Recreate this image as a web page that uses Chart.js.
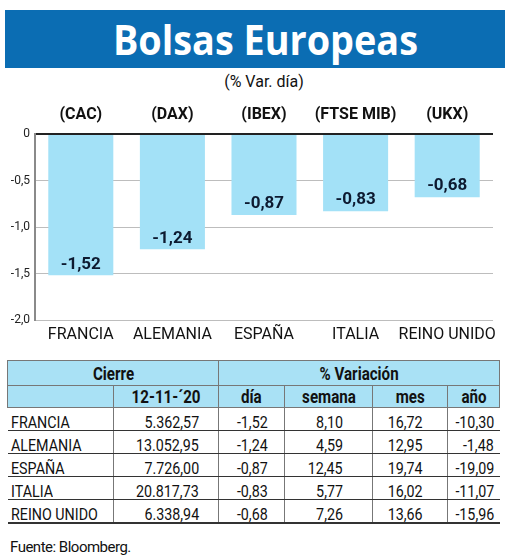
<!DOCTYPE html>
<html>
<head>
<meta charset="utf-8">
<script src="https://cdn.jsdelivr.net/npm/chart.js@4.4.1/dist/chart.umd.min.js"></script>
<style>
body { margin:0; background:#fff; width:520px; height:558px; position:relative; overflow:hidden; font-family:Roboto, sans-serif; color:#111; }
#banner { position:absolute; left:5px; top:10px; width:500px; height:58px; background:#0b6db3; text-align:center; }
#banner span { display:inline-block; color:#fff; font-family:"Open Sans", sans-serif; font-weight:bold; font-size:42px; line-height:58px; transform:translateX(10px) scaleX(0.9); }
#sub { position:absolute; left:4px; width:520px; top:72px; text-align:center; font-size:16px; }
#chartBox { position:absolute; left:0; top:95px; width:520px; height:255px; }
#tabla { position:absolute; left:7px; top:360px; border-collapse:collapse; table-layout:fixed; width:492px; font-size:17px; }
#tabla td { padding:0; white-space:nowrap; overflow:visible; }
#tabla td span { display:inline-block; transform:scaleX(0.84); }
#tabla tr.head td { background:#a9e1f5; border:1.5px solid #777; font-weight:bold; font-size:18px; text-align:center; }
#tabla tr.head td span { transform-origin:center; }
#tabla tr.h1 td { height:24px; }
#tabla tr.h2 td { height:21px; }
#tabla tr.fila td { height:22px; vertical-align:bottom; line-height:15px; border-bottom:1.5px solid #333; border-left:1px solid #777; text-align:right; }
#tabla tr.fila td span { transform-origin:right; }
#tabla tr.fila td:first-child { border-left:none; padding-left:3px; text-align:left; }
#tabla tr.fila td:first-child span { transform-origin:left; }
#tabla tr.fila:last-child td { border-bottom:2px solid #333; }
#fuente { position:absolute; left:10px; top:538px; font-size:15px; letter-spacing:-0.5px; }
</style>
</head>
<body>
<div id="banner"><span>Bolsas Europeas</span></div>
<div id="sub">(% Var. día)</div>
<div id="chartBox"><canvas id="grafico" width="520" height="255"></canvas></div>
<table id="tabla"></table>
<div id="fuente">Fuente: Bloomberg.</div>

<script>
// datos
var paises = ["FRANCIA", "ALEMANIA", "ESPAÑA", "ITALIA", "REINO UNIDO"];
var indices = ["(CAC)", "(DAX)", "(IBEX)", "(FTSE MIB)", "(UKX)"];
var varDia = [-1.52, -1.24, -0.87, -0.83, -0.68];
var cierre = [5362.57, 13052.95, 7726.00, 20817.73, 6338.94];
var varSemana = [8.10, 4.59, 12.45, 5.77, 7.26];
var varMes = [16.72, 12.95, 19.74, 16.02, 13.66];
var varAno = [-10.30, -1.48, -19.09, -11.07, -15.96];
var fechaCierre = "12-11-´20";
var yMin = -2, yMax = 0, yPaso = 0.5;

// formato español: 13.052,95
function fmt(v, dec) {
	var s = Math.abs(v).toFixed(dec).split(".");
	var ent = s[0].replace(/\B(?=(\d{3})+(?!\d))/g, ".");
	return (v < 0 ? "-" : "") + ent + (dec > 0 ? "," + s[1] : "");
}

// etiquetas de valor dentro de la barra
var valorPlugin = {
	id: "valores",
	afterDatasetsDraw: function(chart) {
		var ctx = chart.ctx;
		var meta = chart.getDatasetMeta(0);
		ctx.save();
		ctx.font = "bold 17px Roboto, sans-serif";
		ctx.fillStyle = "#0d1a30";
		ctx.textAlign = "center";
		ctx.textBaseline = "middle";
		meta.data.forEach(function(bar, i) {
			ctx.fillText(fmt(varDia[i], 2), bar.x, bar.y - 11);
		});
		ctx.restore();
	}
};

var ctx = document.getElementById("grafico");
var miGrafico = new Chart(ctx, {
	type: "bar",
	data: {
		labels: paises,
		datasets: [{
			data: varDia,
			backgroundColor: "#a3e1f7",
			borderWidth: 0,
			barPercentage: 0.71,
			categoryPercentage: 1
		}]
	},
	options: {
		responsive: false,
		animation: false,
		devicePixelRatio: 1,
		layout: { padding: { left: 0, right: 27, top: 0, bottom: 0 } },
		plugins: { legend: { display: false }, tooltip: { enabled: false } },
		scales: {
			x: {
				position: "bottom",
				grid: { display: false, drawTicks: false },
				border: { display: false },
				ticks: { font: { family: "Roboto, sans-serif", size: 16 }, color: "#111", padding: 5, maxRotation: 0, autoSkip: false },
				afterFit: function(s) { s.height = 30; }
			},
			x2: {
				type: "category",
				position: "top",
				labels: indices,
				grid: { display: false, drawTicks: false },
				border: { display: false },
				ticks: { font: { family: "Roboto, sans-serif", size: 16, weight: "bold" }, color: "#111", padding: 9, maxRotation: 0, autoSkip: false },
				afterFit: function(s) { s.height = 39; }
			},
			y: {
				min: yMin,
				max: yMax,
				ticks: {
					stepSize: yPaso,
					font: { family: "Roboto, sans-serif", size: 12 },
					color: "#222",
					padding: 5,
					callback: function(v) { return v === 0 ? "0" : fmt(v, 1); }
				},
				grid: {
					drawTicks: false,
					color: function(c) { return c.tick && c.tick.value === 0 ? "#222" : "#bdbdbd"; },
					lineWidth: function(c) { return c.tick && c.tick.value === 0 ? 2 : 1; }
				},
				border: { color: "#8a8a8a", width: 2 },
				afterFit: function(s) { s.width = 35; }
			}
		}
	},
	plugins: [valorPlugin]
});

// tabla
function celda(txt, estilo) {
	return '<td' + (estilo ? ' style="' + estilo + '"' : '') + '><span>' + txt + '</span></td>';
}

function crearTabla() {
	var t = document.getElementById("tabla");
	var anchos = [106, 105, 66, 88, 75, 52];
	var html = "<colgroup>";
	anchos.forEach(function(w) { html += '<col style="width:' + w + 'px">'; });
	html += "</colgroup>";
	html += '<tr class="head h1"><td colspan="2"><span>Cierre</span></td><td colspan="4"><span>% Variación</span></td></tr>';
	html += '<tr class="head h2"><td></td>' + celda(fechaCierre) + celda("día") + celda("semana") + celda("mes") + celda("año") + '</tr>';
	for (var i = 0; i < paises.length; i++) {
		html += '<tr class="fila">' +
			celda(paises[i]) +
			celda(fmt(cierre[i], 2), "padding-right:19px") +
			celda(fmt(varDia[i], 2), "padding-right:16px") +
			celda(fmt(varSemana[i], 2), "padding-right:29px") +
			celda(fmt(varMes[i], 2), "padding-right:24px") +
			celda(fmt(varAno[i], 2), "padding-right:6px") +
			'</tr>';
	}
	t.innerHTML = html;
}
crearTabla();
</script>
</body>
</html>
